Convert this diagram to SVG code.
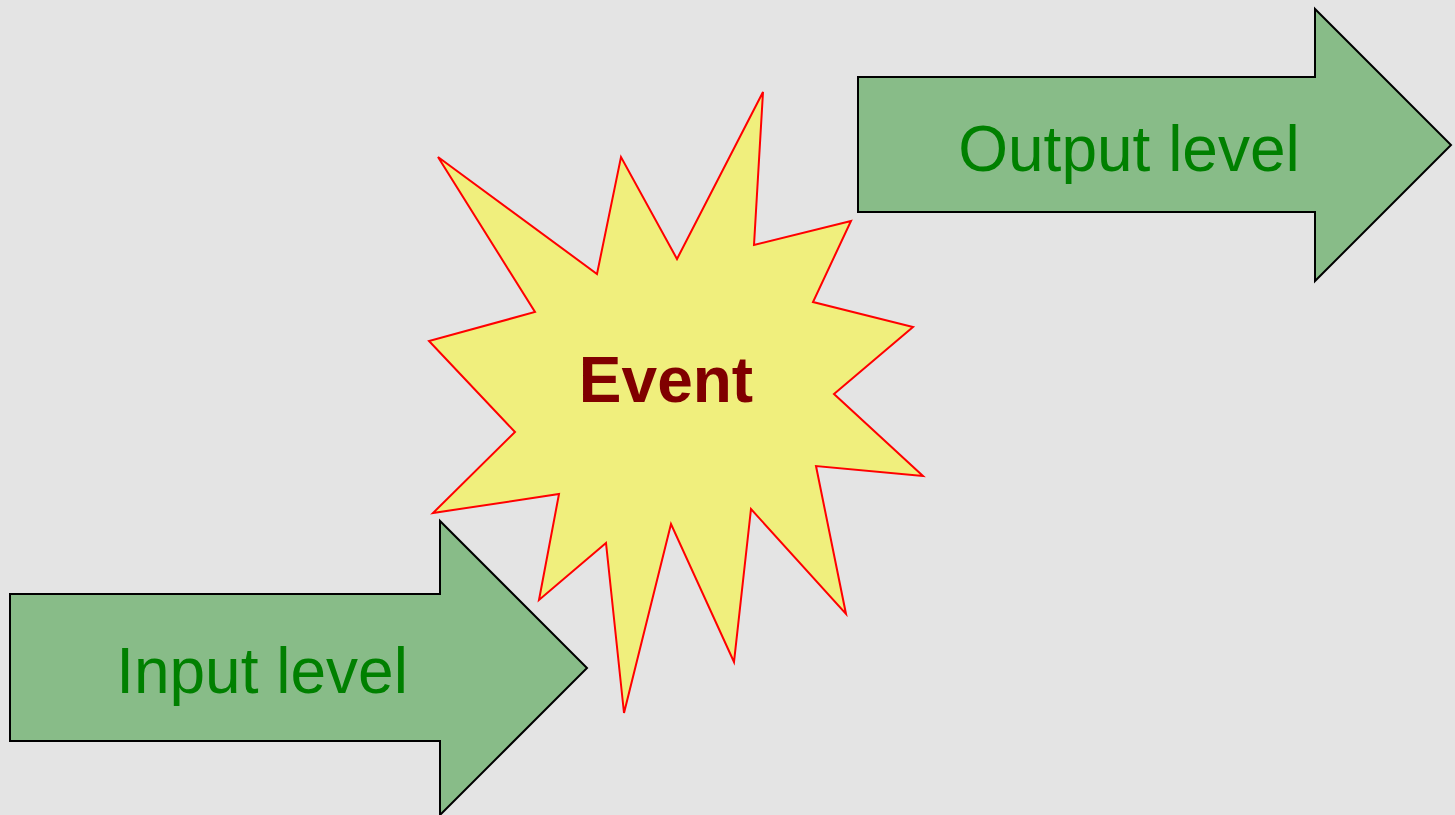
<svg xmlns="http://www.w3.org/2000/svg" width="1455" height="815" viewBox="0 0 1455 815">
<style>
.arrow{fill:#88bc88;stroke:#000;stroke-width:2;stroke-linejoin:miter}
.star{fill:#f0ef7d;stroke:#ff0000;stroke-width:2;stroke-linejoin:miter}
.lbl{font-family:"Liberation Sans",Arial,sans-serif;font-size:64px;fill:#008000;text-anchor:middle}
.ev{font-family:"Liberation Sans",Arial,sans-serif;font-size:64px;font-weight:bold;fill:#800000;text-anchor:middle}
</style>
<rect x="0" y="0" width="1455" height="815" fill="#e4e4e4"/>
<g id="input">
<polygon class="arrow" points="10,594 440,594 440,521 587,668 440,815 440,741 10,741"/>
<text class="lbl" x="262" y="693">Input level</text>
</g>
<g id="output">
<polygon class="arrow" points="858,77 1315,77 1315,9 1451,145 1315,281 1315,212 858,212"/>
<text class="lbl" x="1129" y="171">Output level</text>
</g>
<g id="event">
<polygon class="star" points="438,157 597,274 621,157 677,259 763,92 754,245 851,221 813,302 913,327 834,394 923,476 816,466 846,614 751,509 734,662 671,524 624,713 606,543 539,600 559,494 433,513 515,432 429,341 535,312"/>
<text class="ev" x="666" y="402">Event</text>
</g>
<g id="connectors"/>
</svg>
